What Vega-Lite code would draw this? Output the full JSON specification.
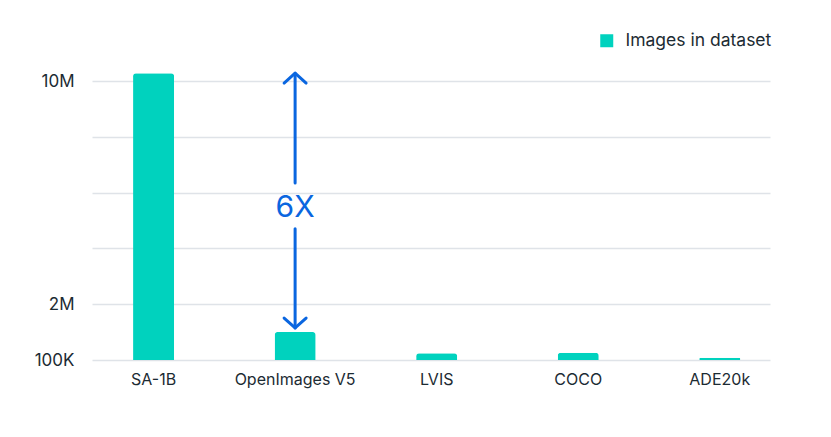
{
  "$schema": "https://vega.github.io/schema/vega-lite/v6.json",
  "width": 678,
  "height": 279,
  "autosize": "none",
  "padding": {"left": 92, "top": 81, "right": 61, "bottom": 77},
  "background": "white",
  "config": {
    "view": {"stroke": null},
    "font": "Inter",
    "axis": {"labelFont": "Inter", "labelColor": "#1c2b33", "labelFontSize": 16, "domain": false, "ticks": false, "title": null}
  },
  "datasets": {
    "bars": [
      {"dataset": "SA-1B", "images": 10280000},
      {"dataset": "OpenImages V5", "images": 1000000},
      {"dataset": "LVIS", "images": 240000},
      {"dataset": "COCO", "images": 260000},
      {"dataset": "ADE20k", "images": 80000}
    ],
    "segments": [
      {"dataset": "OpenImages V5", "from": 10280000, "to": 6340000},
      {"dataset": "OpenImages V5", "from": 4700000, "to": 1150000}
    ],
    "heads": [
      {"dataset": "OpenImages V5", "at": 10280000, "dir": "up"},
      {"dataset": "OpenImages V5", "at": 1150000, "dir": "down"}
    ],
    "label": [
      {"dataset": "OpenImages V5", "at": 5450000, "text": "6X"}
    ]
  },
  "layer": [
    {
      "data": {"name": "bars"},
      "mark": {"type": "bar", "cornerRadiusTopLeft": 3, "cornerRadiusTopRight": 3},
      "encoding": {
        "x": {
          "field": "dataset", "type": "nominal",
          "sort": ["SA-1B", "OpenImages V5", "LVIS", "COCO", "ADE20k"],
          "scale": {"paddingInner": 0.71, "paddingOuter": 0.25, "align": 0.58},
          "axis": {"labelAngle": 0, "labelPadding": 11, "grid": false}
        },
        "y": {
          "field": "images", "type": "quantitative",
          "scale": {"domain": [0, 10000000], "nice": false, "zero": true},
          "axis": {
            "values": [0, 2000000, 4000000, 6000000, 8000000, 10000000],
            "labelExpr": "datum.value == 0 ? '100K' : datum.value == 2000000 ? '2M' : datum.value == 10000000 ? '10M' : ''",
            "labelPadding": 18,
            "labelFontSize": 17,
            "grid": true,
            "gridColor": "#dfe3e8",
            "gridWidth": 1.5
          }
        },
        "color": {
          "datum": "Images in dataset",
          "scale": {"range": ["#00d2be"]},
          "legend": {
            "title": null,
            "orient": "none",
            "legendX": 506,
            "legendY": -49,
            "symbolType": "square",
            "symbolSize": 169,
            "symbolOpacity": 1,
            "symbolStrokeWidth": 0,
            "labelFont": "Inter",
            "labelFontSize": 17.5,
            "labelColor": "#1c2b33",
            "labelOffset": 10,
            "padding": 0
          }
        }
      }
    },
    {
      "data": {"name": "segments"},
      "mark": {"type": "rule", "color": "#0a66e0", "strokeWidth": 3, "strokeCap": "round"},
      "encoding": {
        "x": {"field": "dataset", "type": "nominal", "sort": ["SA-1B", "OpenImages V5", "LVIS", "COCO", "ADE20k"]},
        "y": {"field": "from", "type": "quantitative"},
        "y2": {"field": "to"}
      }
    },
    {
      "data": {"name": "heads"},
      "transform": [{"filter": "datum.dir == 'up'"}],
      "mark": {"type": "point", "shape": "M-1,0.9L0,0L1,0.9", "filled": false, "size": 484, "stroke": "#0a66e0", "strokeWidth": 3, "strokeCap": "round", "strokeJoin": "round", "opacity": 1},
      "encoding": {
        "x": {"field": "dataset", "type": "nominal", "sort": ["SA-1B", "OpenImages V5", "LVIS", "COCO", "ADE20k"]},
        "y": {"field": "at", "type": "quantitative"}
      }
    },
    {
      "data": {"name": "heads"},
      "transform": [{"filter": "datum.dir == 'down'"}],
      "mark": {"type": "point", "shape": "M-1,-0.9L0,0L1,-0.9", "filled": false, "size": 484, "stroke": "#0a66e0", "strokeWidth": 3, "strokeCap": "round", "strokeJoin": "round", "opacity": 1},
      "encoding": {
        "x": {"field": "dataset", "type": "nominal", "sort": ["SA-1B", "OpenImages V5", "LVIS", "COCO", "ADE20k"]},
        "y": {"field": "at", "type": "quantitative"}
      }
    },
    {
      "data": {"name": "label"},
      "mark": {"type": "text", "font": "Inter", "fontSize": 30, "color": "#0a66e0", "align": "center", "baseline": "middle"},
      "encoding": {
        "x": {"field": "dataset", "type": "nominal", "sort": ["SA-1B", "OpenImages V5", "LVIS", "COCO", "ADE20k"]},
        "y": {"field": "at", "type": "quantitative"},
        "text": {"field": "text"}
      }
    }
  ]
}
